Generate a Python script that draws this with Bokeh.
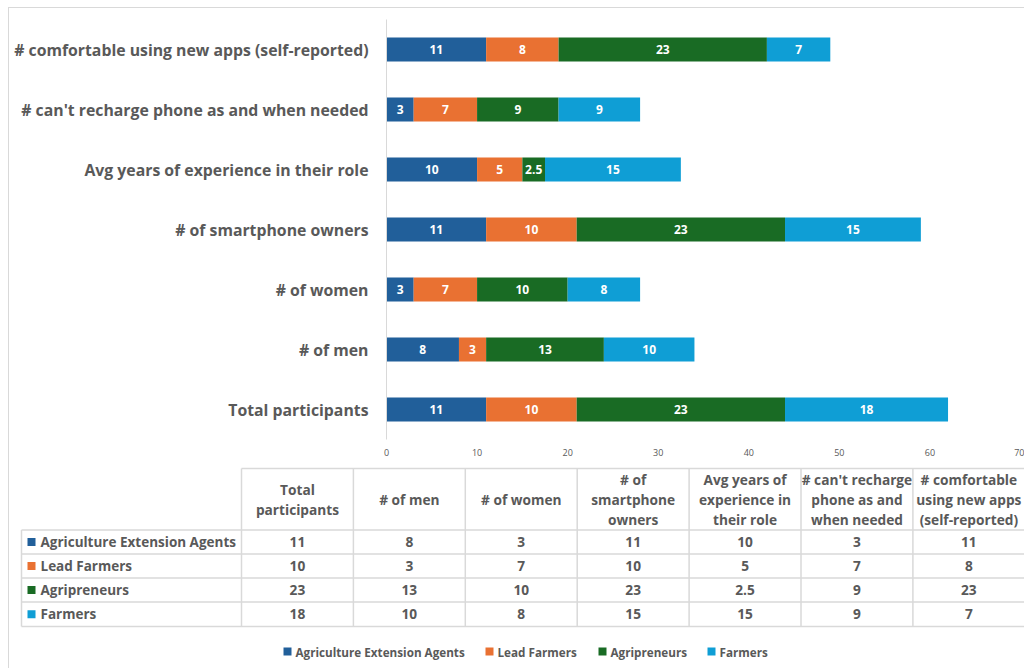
from bokeh.plotting import figure
from bokeh.models import ColumnDataSource, FactorRange, Range1d, FixedTicker
from bokeh.layouts import column
from bokeh.core.properties import value
from bokeh.embed import file_html
from bokeh.resources import INLINE

# ---------------- data ----------------
categories = [
    "Total participants",
    "# of men",
    "# of women",
    "# of smartphone owners",
    "Avg years of experience in their role",
    "# can't recharge phone as and when needed",
    "# comfortable using new apps (self-reported)",
]
series = ["Agriculture Extension Agents", "Lead Farmers", "Agripreneurs", "Farmers"]
agents = [11, 8, 3, 11, 10, 3, 11]
lead_farmers = [10, 3, 7, 10, 5, 7, 8]
agripreneurs = [23, 13, 10, 23, 2.5, 9, 23]
farmers = [18, 10, 8, 15, 15, 9, 7]
table_headers = [
    "Total\nparticipants",
    "# of men",
    "# of women",
    "# of\nsmartphone\nowners",
    "Avg years of\nexperience in\ntheir role",
    "# can't recharge\nphone as and\nwhen needed",
    "# comfortable\nusing new apps\n(self-reported)",
]
x_ticks = [0, 10, 20, 30, 40, 50, 60, 70]

# ---------------- style ----------------
colors = ["#215F9A", "#E97132", "#196B24", "#0F9ED5"]
FONT = "Open Sans"
GRAY = "#595959"
LINE = "#D9D9D9"

values = [agents, lead_farmers, agripreneurs, farmers]


def fmt(v):
    return f"{v:g}"


# ---------------- bar chart ----------------
src = ColumnDataSource(dict(cat=categories, **{s: v for s, v in zip(series, values)}))

p = figure(
    y_range=FactorRange(*categories),
    x_range=Range1d(0, 70),
    width=1015, height=458,
    min_border_left=377, min_border_right=4,
    min_border_top=11, min_border_bottom=27,
    output_backend="svg", toolbar_location=None,
)
p.frame_align = False
p.hbar_stack(series, y="cat", height=0.4, color=colors, source=src, line_color=None)

lx, ly, lt = [], [], []
for i, cat in enumerate(categories):
    cum = 0
    for vals in values:
        v = vals[i]
        lx.append(cum + v / 2)
        ly.append(cat)
        lt.append(fmt(v))
        cum += v
p.text(x=lx, y=ly, text=lt, text_align="center", text_baseline="middle",
       text_color="white", text_font=value(FONT), text_font_style="bold",
       text_font_size="12px")

p.xaxis.ticker = FixedTicker(ticks=x_ticks)
p.xaxis.axis_line_color = None
p.xaxis.major_tick_line_color = None
p.xaxis.minor_tick_line_color = None
p.xaxis.major_label_text_font = FONT
p.xaxis.major_label_text_font_size = "9px"
p.xaxis.major_label_text_color = GRAY
p.xaxis.major_label_standoff = 3

p.yaxis.axis_line_color = LINE
p.yaxis.major_tick_line_color = None
p.yaxis.minor_tick_line_color = None
p.yaxis.major_label_text_font = FONT
p.yaxis.major_label_text_font_style = "bold"
p.yaxis.major_label_text_font_size = "15.8px"
p.yaxis.major_label_text_color = GRAY
p.yaxis.major_label_standoff = 12

p.xgrid.grid_line_color = None
p.ygrid.grid_line_color = None
p.outline_line_color = None

# ---------------- data table + legend ----------------
TW, TH = 1015, 202
t = figure(width=TW, height=TH, x_range=Range1d(0, TW), y_range=Range1d(TH, 0),
           min_border=0, output_backend="svg", toolbar_location=None)
t.frame_align = False
t.axis.visible = False
t.xgrid.grid_line_color = None
t.ygrid.grid_line_color = None
t.outline_line_color = None

OX, OY = 9, 466  # page offset of this figure
label_left = 21 - OX
col_left0 = 241 - OX
col_w = 111.9
ncol = len(categories)
col_edges = [col_left0 + k * col_w for k in range(ncol + 1)]
header_top = 468 - OY
row_edges = [529.5 - OY, 553.5 - OY, 577.5 - OY, 601.5 - OY, 626 - OY]

x0, y0, x1, y1 = [], [], [], []
x0.append(col_edges[0]); x1.append(col_edges[-1]); y0.append(header_top); y1.append(header_top)
for ry in row_edges:
    x0.append(label_left); x1.append(col_edges[-1]); y0.append(ry); y1.append(ry)
x0.append(label_left); x1.append(label_left); y0.append(row_edges[0]); y1.append(row_edges[-1])
for cx in col_edges:
    x0.append(cx); x1.append(cx); y0.append(header_top); y1.append(row_edges[-1])
t.segment(x0=x0, y0=y0, x1=x1, y1=y1, line_color=LINE, line_width=1.5)

centers = [(col_edges[k] + col_edges[k + 1]) / 2 for k in range(ncol)]
header_y = (header_top + row_edges[0]) / 2
t.text(x=centers, y=[header_y] * ncol, text=table_headers, text_align="center",
       text_baseline="middle", text_color=GRAY, text_font=value(FONT),
       text_font_style="bold", text_font_size="13.7px", text_line_height=1.04)

row_centers = [(row_edges[k] + row_edges[k + 1]) / 2 for k in range(len(series))]
vx, vy, vt = [], [], []
for r, vals in enumerate(values):
    for k, v in enumerate(vals):
        vx.append(centers[k]); vy.append(row_centers[r]); vt.append(fmt(v))
t.text(x=vx, y=vy, text=vt, text_align="center", text_baseline="middle",
       text_color=GRAY, text_font=value(FONT), text_font_style="bold",
       text_font_size="13.7px")

t.scatter(x=[31 - OX] * len(series), y=row_centers, marker="square", size=8,
          color=colors, line_color=None)
t.text(x=[40 - OX] * len(series), y=row_centers, text=series, text_align="left",
       text_baseline="middle", text_color=GRAY, text_font=value(FONT),
       text_font_style="bold", text_font_size="13.5px")

# legend
leg_y = 651 - OY
leg_sq = [287 - OX, 489 - OX, 602 - OX, 711 - OX]
t.scatter(x=leg_sq, y=[leg_y] * len(series), marker="square", size=8,
          color=colors, line_color=None)
t.text(x=[s + 8 for s in leg_sq], y=[leg_y] * len(series), text=series,
       text_align="left", text_baseline="middle", text_color=GRAY,
       text_font=value(FONT), text_font_style="bold", text_font_size="11.7px")

layout = column(p, t, spacing=0,
                styles={"margin-left": "8px", "margin-top": "7px",
                        "border-left": "1px solid #D9D9D9",
                        "border-top": "1px solid #D9D9D9"})

open("out.html", "w").write(file_html(layout, INLINE))
